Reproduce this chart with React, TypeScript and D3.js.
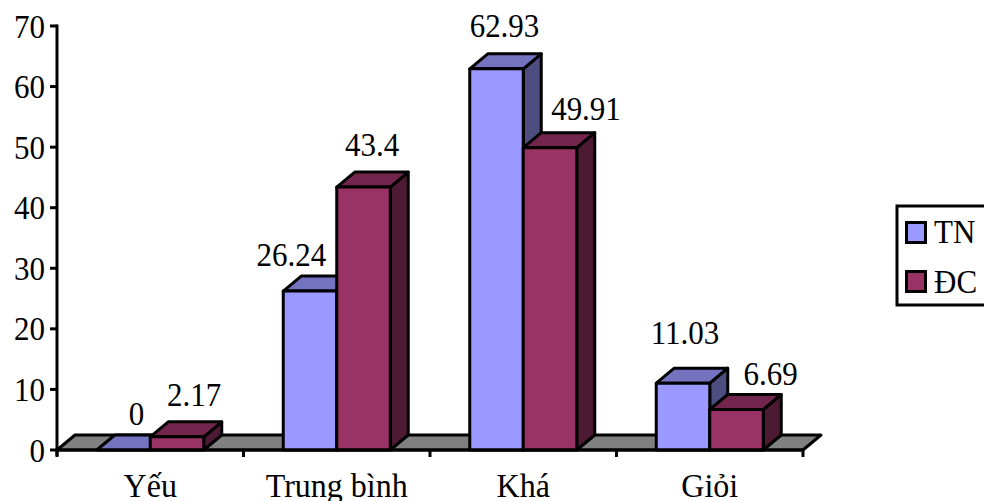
import React from "react";
import * as d3 from "d3";

const categories = ["Yếu", "Trung bình", "Khá", "Giỏi"];
const seriesNames = ["TN", "ĐC"];
const tnValues = [0, 26.24, 62.93, 11.03];
const dcValues = [2.17, 43.4, 49.91, 6.69];
const yTicks = [0, 10, 20, 30, 40, 50, 60, 70];

// Hand-placed nudges of the value labels, relative to each bar's front top edge
const tnLabelNudge = [[13, -25], [-18.6, -25.5], [8, -32], [2, -39]];
const dcLabelNudge = [[17, -31], [8.5, -31], [36, -28], [34, -24.5]];

const W = 984;
const H = 501;
const FONT = "'Liberation Serif', 'Times New Roman', serif";
const FONT_SIZE = 31;
const CATEGORY_FONT_SIZE = 32;
const TEXT_STRETCH_Y = 1.07;
const STROKE = 3;
const DEPTH_X = 18;
const DEPTH_Y = 15;

const fills = [
  { front: "#9999FF", top: "#7373BF", side: "#4D4D80" },
  { front: "#993366", top: "#73264D", side: "#4D1A33" },
];

const pts = (p: number[][]) => p.map((q) => q.join(",")).join(" ");

// Text with the slightly tall proportions used across the chart
function Label({ x, y, anchor = "start", size = FONT_SIZE, children }: {
  x: number; y: number; anchor?: string; size?: number; children: React.ReactNode;
}) {
  return (
    <text
      transform={`translate(${x},${y}) scale(1,${TEXT_STRETCH_Y})`}
      textAnchor={anchor}
      fontSize={size}
    >
      {children}
    </text>
  );
}

function Bar({ x, w, y, y0, c }: { x: number; w: number; y: number; y0: number; c: typeof fills[0] }) {
  const r = x + w;
  return (
    <g stroke="#000" strokeWidth={STROKE} strokeLinejoin="round">
      <polygon fill={c.side} points={pts([[r, y], [r + DEPTH_X, y - DEPTH_Y], [r + DEPTH_X, y0 - DEPTH_Y], [r, y0]])} />
      <polygon fill={c.top} points={pts([[x, y], [x + DEPTH_X, y - DEPTH_Y], [r + DEPTH_X, y - DEPTH_Y], [r, y]])} />
      {y0 > y && <rect x={x} y={y} width={w} height={y0 - y} fill={c.front} />}
    </g>
  );
}

export default function App() {
  const yScale = d3.scaleLinear().domain([0, 70]).range([450, 26]);
  const xScale = d3.scaleBand<string>().domain(categories).range([57, 803]);
  const inner = d3
    .scaleBand<string>()
    .domain(seriesNames)
    .range([0, xScale.bandwidth()])
    .paddingInner(0)
    .paddingOuter(0.743);
  const values = [tnValues, dcValues];
  const nudges = [tnLabelNudge, dcLabelNudge];
  const y0 = yScale(0);
  const xL = xScale.range()[0];
  const xR = xScale.range()[1];

  const catTicks = [...categories.map((c) => xScale(c) as number), xR];

  return (
    <svg
      width={W}
      height={H}
      viewBox={`0 0 ${W} ${H}`}
      style={{ position: "absolute", left: 0, top: 0, background: "#fff" }}
      fontFamily={FONT}
      fill="#000"
    >
      {/* floor of the 3D plot */}
      <polygon
        points={pts([[xL, y0], [xL + DEPTH_X, y0 - DEPTH_Y], [xR + DEPTH_X, y0 - DEPTH_Y], [xR, y0]])}
        fill="#808080"
        stroke="#000"
        strokeWidth={STROKE}
        strokeLinejoin="round"
      />

      {/* bars, back series drawn first within each category */}
      {categories.map((cat, i) =>
        seriesNames.map((s, j) => (
          <Bar
            key={cat + s}
            x={(xScale(cat) as number) + (inner(s) as number)}
            w={inner.bandwidth()}
            y={yScale(values[j][i])}
            y0={y0}
            c={fills[j]}
          />
        ))
      )}

      {/* axes */}
      <g stroke="#000" strokeWidth={STROKE}>
        <line x1={xL} x2={xL} y1={yScale(70) - 1.5} y2={y0 + 6} />
        <line x1={xL} x2={xR} y1={y0} y2={y0} />
        {yTicks.map((t) => (
          <line key={t} x1={xL - 7} x2={xL} y1={yScale(t)} y2={yScale(t)} />
        ))}
        {catTicks.map((t) => (
          <line key={t} x1={t} x2={t} y1={y0} y2={y0 + 7} />
        ))}
      </g>
      {yTicks.map((t) => (
        <Label key={t} x={45} y={yScale(t) + 11.5} anchor="end">
          {t}
        </Label>
      ))}
      {categories.map((c) => (
        <Label key={c} x={(xScale(c) as number) + xScale.bandwidth() / 2} y={497} anchor="middle" size={CATEGORY_FONT_SIZE}>
          {c}
        </Label>
      ))}

      {/* value labels */}
      {categories.map((cat, i) =>
        seriesNames.map((s, j) => (
          <Label
            key={cat + s}
            x={(xScale(cat) as number) + (inner(s) as number) + inner.bandwidth() / 2 + nudges[j][i][0]}
            y={yScale(values[j][i]) + nudges[j][i][1]}
            anchor="middle"
          >
            {values[j][i]}
          </Label>
        ))
      )}

      {/* legend */}
      <rect x={897} y={206} width={90} height={99} fill="#fff" stroke="#000" strokeWidth={STROKE} />
      {seriesNames.map((s, j) => (
        <g key={s}>
          <rect x={906.5} y={222.5 + j * 49} width={19} height={20} fill={fills[j].front} stroke="#000" strokeWidth={STROKE} />
          <Label x={934} y={243 + j * 49.5}>
            {s}
          </Label>
        </g>
      ))}
    </svg>
  );
}
